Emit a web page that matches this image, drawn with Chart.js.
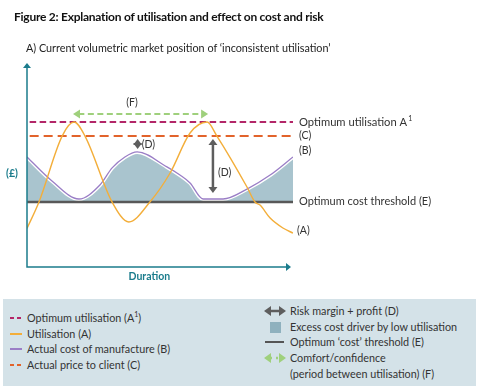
<!DOCTYPE html>
<html>
<head>
<meta charset="utf-8">
<script src="https://cdn.jsdelivr.net/npm/chart.js@4"></script>
<style>
  body { margin: 0; background: #fff; font-family: Lato, "Noto Sans", sans-serif; color: #2b2b2b; }
  #wrap { position: relative; width: 480px; height: 392px; overflow: hidden; }
  #chart { position: absolute; left: 0; top: 0; }
  .title { position: absolute; left: 14px; top: 9px; font-weight: bold; font-size: 12px; letter-spacing: -0.25px; color: #111; }
  .sub { position: absolute; left: 26px; top: 41px; font-size: 10.8px; color: #222; }
  .legend { position: absolute; left: 3px; top: 299px; width: 473px; height: 87px; background: #d4e2e8; font-size: 10.8px; color: #333; }
  .item { position: absolute; white-space: nowrap; line-height: 12px; }
  .item sup { font-size: 7px; line-height: 0; }
  .ico { position: absolute; }
</style>
</head>
<body>
<div id="wrap">
  <canvas id="chart" width="480" height="392"></canvas>
  <div class="title">Figure 2: Explanation of utilisation and effect on cost and risk</div>
  <div class="sub">A) Current volumetric market position of ‘inconsistent utilisation’</div>
  <div class="legend" id="legend"></div>
</div>
<script>
// x = duration (0-100), y = cost (£), both schematic units
const utilisationX = [0, 4.5, 13.2, 17.7, 21.8, 32, 38.3, 46.2, 53.8, 61.3, 67.7, 71.4, 82.7, 85.7, 87.6, 91.4, 96.2, 100];
const utilisationY = [19, 32, 64.5, 71.4, 64.5, 32, 22.2, 32, 46.3, 66, 71.4, 64.5, 39.4, 32, 30.5, 24.1, 19.2, 16.7];
const costX = [0, 9.4, 19.5, 27.4, 32, 36.8, 41.4, 52.6, 57.5, 61.3, 66.2, 73.7, 82.7, 91.4, 100];
const costY = [54.2, 42.4, 33.5, 40.4, 48.8, 54.2, 56.7, 49.3, 45.3, 41.4, 33.5, 33.5, 38.4, 45.3, 54.2];
const optimumUtilisation = 71.4;   // A1
const priceToClient = 64.5;        // C
const costThreshold = 32;          // E
const comfortLevel = 75.4;         // F
const comfortFrom = 17.3;
const comfortTo = 68.1;
const riskArrowX = [41.6, 69.9];   // D
const riskArrowBottom = [57.6, 36];

const legendLeft = [
  { text: 'Optimum utilisation (A<sup>1</sup>)', icon: 'dash', color: '#b32668' },
  { text: 'Utilisation (A)', icon: 'line', color: '#f3ae3a' },
  { text: 'Actual cost of manufacture (B)', icon: 'line', color: '#9a7ec6' },
  { text: 'Actual price to client (C)', icon: 'dash', color: '#e2632b' }
];
const legendRight = [
  { text: 'Risk margin + profit (D)', icon: 'darrow', color: '#5e5e5e' },
  { text: 'Excess cost driver by low utilisation', icon: 'box', color: '#8fb1be' },
  { text: 'Optimum ‘cost’ threshold (E)', icon: 'line', color: '#555' },
  { text: 'Comfort/confidence', icon: 'garrow', color: '#9fd07c' },
  { text: '(period between utilisation) (F)', icon: null }
];

const teal = '#1b7c8c';
const toPts = (xs, ys) => xs.map((x, i) => ({ x: x, y: ys[i] }));
const flat = (y, a = 0, b = 100) => [{ x: a, y: y }, { x: b, y: y }];

function arrowHead(ctx, x, y, dir, w, h) {
  // dir: 'up','down','left','right'
  ctx.beginPath();
  if (dir === 'up') { ctx.moveTo(x, y); ctx.lineTo(x - w / 2, y + h); ctx.lineTo(x + w / 2, y + h); }
  if (dir === 'down') { ctx.moveTo(x, y); ctx.lineTo(x - w / 2, y - h); ctx.lineTo(x + w / 2, y - h); }
  if (dir === 'left') { ctx.moveTo(x, y); ctx.lineTo(x + h, y - w / 2); ctx.lineTo(x + h, y + w / 2); }
  if (dir === 'right') { ctx.moveTo(x, y); ctx.lineTo(x - h, y - w / 2); ctx.lineTo(x - h, y + w / 2); }
  ctx.closePath();
  ctx.fill();
}

const annotations = {
  id: 'annotations',
  afterDatasetsDraw(chart) {
    const ctx = chart.ctx;
    const xs = chart.scales.x, ys = chart.scales.y;
    const area = chart.chartArea;
    ctx.save();

    // axes
    ctx.strokeStyle = teal; ctx.fillStyle = teal; ctx.lineWidth = 1.5;
    ctx.beginPath();
    ctx.moveTo(area.left, area.top + 3); ctx.lineTo(area.left, area.bottom);
    ctx.lineTo(area.right - 4, area.bottom);
    ctx.stroke();
    arrowHead(ctx, area.left, area.top - 1, 'up', 8, 5);
    arrowHead(ctx, area.right - 2, area.bottom, 'right', 8, 5);
    ctx.font = 'bold 10.5px Lato, sans-serif';
    ctx.textAlign = 'center'; ctx.textBaseline = 'middle';
    ctx.fillText('(£)', 12, ys.getPixelForValue(46));
    ctx.fillText('Duration', xs.getPixelForValue(46), area.bottom + 10);

    // risk margin arrows (D)
    ctx.fillStyle = '#5e5e5e'; ctx.strokeStyle = '#5e5e5e'; ctx.lineWidth = 2.5;
    riskArrowX.forEach((v, i) => {
      const x = xs.getPixelForValue(v);
      const top = ys.getPixelForValue(priceToClient) + 3;
      const bot = ys.getPixelForValue(riskArrowBottom[i]) - 1;
      ctx.beginPath(); ctx.moveTo(x, top + 4); ctx.lineTo(x, bot - 4); ctx.stroke();
      arrowHead(ctx, x, top, 'up', 9, 6);
      arrowHead(ctx, x, bot, 'down', 9, 6);
    });

    // comfort arrow heads (F)
    ctx.fillStyle = '#9fd07c';
    const fy = ys.getPixelForValue(comfortLevel);
    arrowHead(ctx, xs.getPixelForValue(comfortFrom), fy, 'left', 9, 7);
    arrowHead(ctx, xs.getPixelForValue(comfortTo), fy, 'right', 9, 7);

    // labels
    ctx.fillStyle = '#333';
    ctx.font = '10.5px Lato, sans-serif';
    ctx.textAlign = 'center';
    ctx.fillText('(F)', xs.getPixelForValue(39.5), fy - 11);
    ctx.textAlign = 'left';
    ctx.fillText('(D)', xs.getPixelForValue(riskArrowX[0]) + 4, ys.getPixelForValue(60.4));
    ctx.fillText('(D)', xs.getPixelForValue(riskArrowX[1]) + 5, ys.getPixelForValue(46.3));

    const rx = area.right + 6;
    ctx.font = '11.2px Lato, sans-serif';
    ctx.fillText('Optimum utilisation A', rx, ys.getPixelForValue(optimumUtilisation));
    const w = ctx.measureText('Optimum utilisation A').width;
    ctx.font = '7px Lato, sans-serif';
    ctx.fillText('1', rx + w + 1, ys.getPixelForValue(optimumUtilisation) - 3);
    ctx.font = '10.5px Lato, sans-serif';
    ctx.fillText('(C)', rx, ys.getPixelForValue(priceToClient));
    ctx.fillText('(B)', rx, ys.getPixelForValue(costY[costY.length - 1]) - 6);
    ctx.font = '11px Lato, sans-serif';
    ctx.fillText('Optimum cost threshold (E)', rx, ys.getPixelForValue(costThreshold) - 1);
    ctx.font = '10.5px Lato, sans-serif';
    ctx.fillText('(A)', rx - 2, ys.getPixelForValue(utilisationY[utilisationY.length - 1]) - 2);
    ctx.restore();
  }
};

new Chart(document.getElementById('chart'), {
  type: 'line',
  data: {
    datasets: [
      { label: 'Utilisation (A)', data: toPts(utilisationX, utilisationY), borderColor: '#f3ae3a', borderWidth: 1.4, cubicInterpolationMode: 'monotone', order: 0 },
      { label: 'Comfort (F)', data: flat(comfortLevel, comfortFrom + 2, comfortTo - 2), borderColor: '#9fd07c', borderWidth: 2, borderDash: [6, 3.5], order: 1 },
      { label: 'Optimum utilisation (A1)', data: flat(optimumUtilisation, 1, 100), borderColor: '#b32668', borderWidth: 2, borderDash: [6.5, 3.5], order: 2 },
      { label: 'Actual price to client (C)', data: flat(priceToClient, 1, 100), borderColor: '#e2632b', borderWidth: 2, borderDash: [9, 5], order: 3 },
      { label: 'Actual cost of manufacture (B)', data: toPts(costX, costY), borderColor: '#9a7ec6', borderWidth: 1.3, cubicInterpolationMode: 'monotone', order: 4 },
      { label: 'Optimum cost threshold (E)', data: flat(costThreshold), borderColor: '#585858', borderWidth: 2.5, order: 5 },
      { label: 'Excess cost', data: toPts(costX, costY), borderColor: '#ffffff', borderWidth: 4, backgroundColor: '#a9c4ce',
        fill: { value: costThreshold }, cubicInterpolationMode: 'monotone', order: 6 }
    ]
  },
  options: {
    responsive: false,
    animation: false,
    layout: { padding: { left: 27, right: 187, top: 64, bottom: 125 } },
    elements: { point: { radius: 0 } },
    scales: {
      x: { type: 'linear', min: 0, max: 100, display: false },
      y: { min: 0, max: 100, display: false }
    },
    plugins: { legend: { display: false }, tooltip: { enabled: false } }
  },
  plugins: [annotations]
});

// legend box
const legend = document.getElementById('legend');
function iconHtml(item, x, y) {
  if (item.icon === 'dash') return `<div class="ico" style="left:${x}px;top:${y - 1}px;width:12px;height:2px;background:repeating-linear-gradient(90deg,${item.color} 0 4px,transparent 4px 7px)"></div>`;
  if (item.icon === 'line') return `<div class="ico" style="left:${x}px;top:${y - 1}px;width:${item.color === '#555' ? 19 : 12}px;height:2px;background:${item.color}"></div>`;
  if (item.icon === 'box') return `<div class="ico" style="left:${x + 5}px;top:${y - 5}px;width:11px;height:11px;background:${item.color}"></div>`;
  if (item.icon === 'darrow' || item.icon === 'garrow') {
    const c = item.color, dash = item.icon === 'garrow';
    return `<svg class="ico" style="left:${x - 1}px;top:${y - 6}px" width="22" height="12">
      <line x1="6" y1="6" x2="16" y2="6" stroke="${c}" stroke-width="2.5" ${dash ? 'stroke-dasharray="2 4"' : ''}/>
      <polygon points="0,6 7,1 7,11" fill="${c}"/><polygon points="22,6 15,1 15,11" fill="${c}"/></svg>`;
  }
  return '';
}
let html = '';
legendLeft.forEach((it, i) => {
  const y = 19 + i * 15.5;
  html += iconHtml(it, 7, y) + `<div class="item" style="left:24px;top:${y - 6}px">${it.text}</div>`;
});
legendRight.forEach((it, i) => {
  const y = 12 + i * 15.7;
  html += iconHtml(it, 262, y) + `<div class="item" style="left:287px;top:${y - 6}px">${it.text}</div>`;
});
legend.innerHTML = html;
</script>
</body>
</html>
